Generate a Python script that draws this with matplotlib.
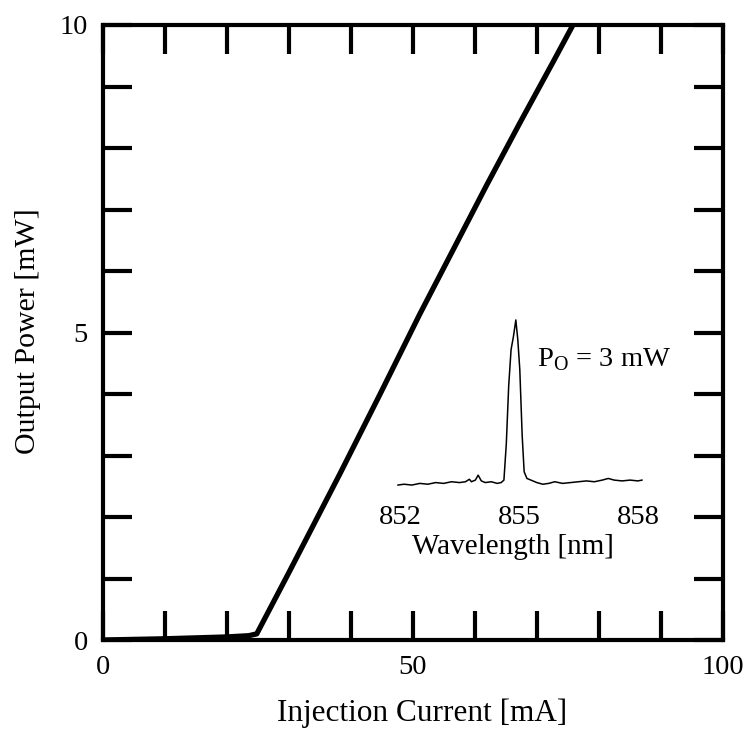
import matplotlib
matplotlib.use("Agg")
import matplotlib.pyplot as plt

plt.rcParams["font.family"] = ["Liberation Serif", "DejaVu Serif"]
plt.rcParams["mathtext.fontset"] = "custom"
plt.rcParams["mathtext.rm"] = "Liberation Serif"

# L-I curve
current = [0, 10, 20, 23.5, 24.8, 30, 38.2, 44.7, 51.1, 56.5, 61.9, 67.3, 72.6, 75.8]
power = [0, 0.02, 0.05, 0.07, 0.1, 1.1, 2.7, 4.0, 5.3, 6.35, 7.4, 8.42, 9.4, 10.0]

# inset spectrum at Po = 3 mW, normalised
wavelength = [851.95, 852.1, 852.3, 852.5, 852.7, 852.9, 853.1, 853.3, 853.5, 853.65,
              853.75, 853.8, 853.9, 853.97, 854.05, 854.15, 854.3, 854.45, 854.55, 854.62,
              854.68, 854.74, 854.8, 854.86, 854.92, 854.97, 855.02, 855.08, 855.13, 855.2,
              855.3, 855.45, 855.6, 855.75, 855.9, 856.1, 856.3, 856.5, 856.7, 856.9,
              857.1, 857.25, 857.4, 857.6, 857.8, 858.0, 858.1]
intensity = [0.0, 0.005, 0.0, 0.01, 0.005, 0.015, 0.01, 0.02, 0.015, 0.02,
             0.035, 0.02, 0.03, 0.06, 0.025, 0.015, 0.02, 0.01, 0.015, 0.03,
             0.25, 0.6, 0.82, 0.9, 1.0, 0.88, 0.7, 0.3, 0.08, 0.04,
             0.03, 0.015, 0.005, 0.01, 0.02, 0.01, 0.015, 0.02, 0.025, 0.02,
             0.03, 0.04, 0.03, 0.025, 0.03, 0.025, 0.03]

x_ticks = [0, 10, 20, 30, 40, 50, 60, 70, 80, 90, 100]
x_labels = ["0", "", "", "", "", "50", "", "", "", "", "100"]
y_ticks = [0, 1, 2, 3, 4, 5, 6, 7, 8, 9, 10]
y_labels = ["0", "", "", "", "", "5", "", "", "", "", "10"]
wl_ticks = [852, 855, 858]

fig = plt.figure(figsize=(7.49, 7.31), dpi=100)
W, H = 749, 731
ax = fig.add_axes([103 / W, 1 - 640 / H, 620 / W, 615 / H])

ax.plot(current, power, color="black", lw=3.8, solid_capstyle="round",
        solid_joinstyle="round")
ax.set_xlim(0, 100)
ax.set_ylim(0, 10)
ax.set_xticks(x_ticks)
ax.set_xticklabels(x_labels)
ax.set_yticks(y_ticks)
ax.set_yticklabels(y_labels)
ax.tick_params(direction="in", length=21, width=3, top=True, right=True,
               labelsize=20.5, color="black")
ax.tick_params(axis="x", pad=11)
ax.tick_params(axis="y", pad=11)
for sp in ax.spines.values():
    sp.set_linewidth(3)
ax.set_xlabel("Injection Current [mA]", fontsize=22.5, va="center")
ax.xaxis.set_label_coords((422 - 103) / 620, (640 - 713) / 615)
ax.set_ylabel("Output Power [mW]", fontsize=21.5, va="center")
ax.yaxis.set_label_coords((28 - 103) / 620, (640 - 331) / 615)

# inset: spectrum, no frame
px_per_nm = (638 - 400) / 6
left_px = 400 - (852 - 851.9) * px_per_nm
right_px = 400 + (858.2 - 852) * px_per_nm
ins = fig.add_axes([left_px / W, 1 - 490 / H, (right_px - left_px) / W, 175 / H])
ins.plot(wavelength, intensity, color="black", lw=1.1)
ins.set_xlim(851.9, 858.2)
ins.set_ylim(-0.03, 1.03)
ins.set_xticks(wl_ticks)
ins.set_xticklabels([str(t) for t in wl_ticks])
ins.set_yticks([])
ins.tick_params(axis="x", length=0, pad=11, labelsize=20.5)
for sp in ins.spines.values():
    sp.set_visible(False)
ins.patch.set_alpha(0)
ins.set_xlabel("Wavelength [nm]", fontsize=21, va="center")
ins.xaxis.set_label_coords(0.5 + (513 - (left_px + right_px) / 2) / (right_px - left_px),
                           (490 - 547) / 175)

fig.text(537 / W, 1 - 360 / H, r"P$_\mathrm{O}$ = 3 mW", fontsize=20.5,
         ha="left", va="center")

fig.savefig("out.png", dpi=100)
